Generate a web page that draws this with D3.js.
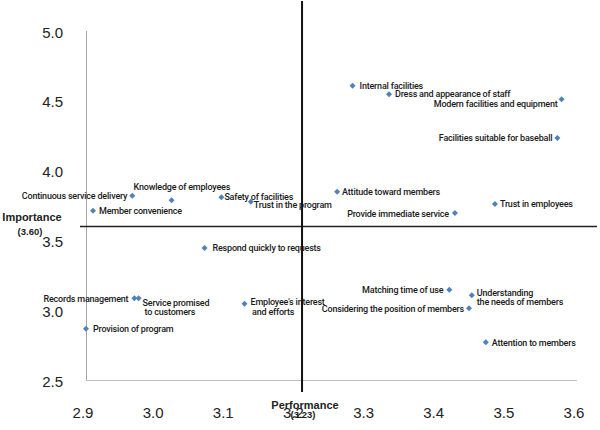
<!DOCTYPE html>
<html>
<head>
<meta charset="utf-8">
<script src="https://cdn.jsdelivr.net/npm/d3@7"></script>
<style>
  html, body { margin: 0; padding: 0; background: #fff; }
  svg { display: block; }
</style>
</head>
<body>
<svg id="chart" width="600" height="430"></svg>
<script>
// ---- data ----
const names = [
  "Internal facilities",
  "Dress and appearance of staff",
  "Modern facilities and equipment",
  "Facilities suitable for baseball",
  "Attitude toward members",
  "Trust in employees",
  "Provide immediate service",
  "Continuous service delivery",
  "Knowledge of employees",
  "Safety of facilities",
  "Trust in the program",
  "Member convenience",
  "Respond quickly to requests",
  "Records management",
  "Service promised\nto customers",
  "Employee's interest\nand efforts",
  "Provision of program",
  "Matching time of use",
  "Understanding\nthe needs of members",
  "Considering the position of members",
  "Attention to members"
];
const performance = [3.280, 3.332, 3.578, 3.572, 3.258, 3.483, 3.426, 2.966, 3.022, 3.093, 3.135, 2.910, 3.069, 2.969, 2.975, 3.126, 2.900, 3.418, 3.450, 3.446, 3.470];
const importance  = [4.608, 4.547, 4.511, 4.234, 3.849, 3.761, 3.696, 3.820, 3.787, 3.809, 3.777, 3.713, 3.446, 3.085, 3.085, 3.047, 2.867, 3.147, 3.107, 3.014, 2.770];

const xTicks = [2.9, 3.0, 3.1, 3.2, 3.3, 3.4, 3.5, 3.6];
const yTicks = [2.5, 3.0, 3.5, 4.0, 4.5, 5.0];
const meanImportance = 3.60;
const meanPerformanceDrawn = 3.208;   // where the vertical mean line is drawn in the picture
const importanceTitle = ["Importance", "(3.60)"];
const performanceTitle = ["Performance", "(3.23)"];

// ---- layout (label placement relative to each marker) ----
const labelPos = [
  {a:"start", dx:7,  dy:0},
  {a:"start", dx:6,  dy:0},
  {a:"end",   dx:-4, dy:5},
  {a:"end",   dx:-5, dy:0},
  {a:"start", dx:5,  dy:0},
  {a:"start", dx:5,  dy:0},
  {a:"end",   dx:-6, dy:1},
  {a:"end",   dx:-5, dy:0},
  {a:"start", dx:-38, dy:-13},
  {a:"start", dx:3,  dy:0},
  {a:"start", dx:3,  dy:3},
  {a:"start", dx:6,  dy:0},
  {a:"start", dx:8,  dy:0},
  {a:"end",   dx:-6, dy:1},
  {a:"start", dx:4,  dy:4.5, dx2:2},
  {a:"start", dx:6,  dy:-1.5, dx2:1.5},
  {a:"start", dx:7,  dy:0},
  {a:"end",   dx:-6, dy:0.5},
  {a:"start", dx:5,  dy:-2.6, dx2:0},
  {a:"end",   dx:-5, dy:0.7},
  {a:"start", dx:6,  dy:0.4}
];

const svg = d3.select("#chart");
const x = d3.scaleLinear().domain([2.9, 3.6]).range([86, 577]);
const y = d3.scaleLinear().domain([2.5, 5.0]).range([380, 31]);

// plot frame (left + bottom)
svg.append("line").attr("x1", x(2.9)).attr("x2", x(2.9)).attr("y1", y(5.0)).attr("y2", y(2.5))
  .attr("stroke", "#a6a6a6").attr("stroke-width", 1).attr("shape-rendering", "crispEdges");
svg.append("line").attr("x1", x(2.9)).attr("x2", x(3.6)).attr("y1", y(2.5)).attr("y2", y(2.5))
  .attr("stroke", "#bfbfbf").attr("stroke-width", 1).attr("shape-rendering", "crispEdges");

// tick labels
svg.append("g").selectAll("text").data(yTicks).join("text")
  .attr("x", 63).attr("y", d => y(d) + 1)
  .attr("text-anchor", "end").attr("dominant-baseline", "central")
  .attr("font-family", "Liberation Sans, Arial, sans-serif").attr("font-size", 15).attr("fill", "#222")
  .text(d => d3.format(".1f")(d));

svg.append("g").selectAll("text").data(xTicks).join("text")
  .attr("x", d => x(d) - 3).attr("y", 412)
  .attr("text-anchor", "middle").attr("dominant-baseline", "central")
  .attr("font-family", "Liberation Sans, Arial, sans-serif").attr("font-size", 15).attr("fill", "#222")
  .text(d => d3.format(".1f")(d));

// mean lines
svg.append("line").attr("x1", 80).attr("x2", 597).attr("y1", y(meanImportance)).attr("y2", y(meanImportance))
  .attr("stroke", "#222").attr("stroke-width", 1.6);
svg.append("line").attr("x1", x(meanPerformanceDrawn)).attr("x2", x(meanPerformanceDrawn)).attr("y1", 1).attr("y2", 392)
  .attr("stroke", "#111").attr("stroke-width", 2);

// axis titles
const titleFont = "Liberation Sans, Arial, sans-serif";
svg.append("text").attr("x", 32).attr("y", 217).attr("text-anchor", "middle").attr("dominant-baseline", "central")
  .attr("font-family", titleFont).attr("font-weight", "bold").attr("font-size", 11).attr("fill", "#222")
  .text(importanceTitle[0]);
svg.append("text").attr("x", 30).attr("y", 231).attr("text-anchor", "middle").attr("dominant-baseline", "central")
  .attr("font-family", titleFont).attr("font-weight", "bold").attr("font-size", 9.5).attr("fill", "#222")
  .text(importanceTitle[1]);
svg.append("text").attr("x", 305).attr("y", 405).attr("text-anchor", "middle").attr("dominant-baseline", "central")
  .attr("font-family", titleFont).attr("font-weight", "bold").attr("font-size", 11).attr("fill", "#222")
  .text(performanceTitle[0]);
svg.append("text").attr("x", 303).attr("y", 414).attr("text-anchor", "middle").attr("dominant-baseline", "central")
  .attr("font-family", titleFont).attr("font-weight", "bold").attr("font-size", 9.5).attr("fill", "#222")
  .text(performanceTitle[1]);

// points
const pts = names.map((n, i) => ({name: n, px: performance[i], py: importance[i], lp: labelPos[i]}));
const sym = d3.symbol(d3.symbolSquare, 18);
svg.append("g").selectAll("path").data(pts).join("path")
  .attr("d", sym)
  .attr("transform", d => `translate(${x(d.px)},${y(d.py)}) rotate(45)`)
  .attr("fill", "#4f81bd");

// labels
const lab = svg.append("g").selectAll("text").data(pts).join("text")
  .attr("x", d => x(d.px) + d.lp.dx)
  .attr("y", d => y(d.py) + d.lp.dy)
  .attr("text-anchor", d => d.lp.a)
  .attr("dominant-baseline", "central")
  .attr("font-family", "Roboto, Liberation Sans, Arial, sans-serif")
  .attr("font-weight", 500)
  .attr("font-size", 9)
  .attr("letter-spacing", -0.2)
  .attr("fill", "#1a1a1a");
lab.each(function(d) {
  const lines = d.name.split("\n");
  const t = d3.select(this);
  lines.forEach((ln, k) => {
    t.append("tspan")
      .attr("x", x(d.px) + d.lp.dx + (k > 0 ? (d.lp.dx2 || 0) : 0))
      .attr("dy", k === 0 ? 0 : 9.5)
      .text(ln);
  });
});
</script>
</body>
</html>
